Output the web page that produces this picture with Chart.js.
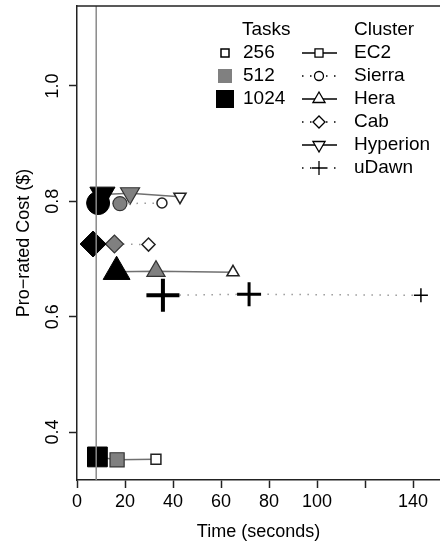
<!DOCTYPE html>
<html>
<head>
<meta charset="utf-8">
<script src="https://cdn.jsdelivr.net/npm/chart.js@4/dist/chart.umd.min.js"></script>
<style>
  html, body { margin: 0; padding: 0; background: #fff; }
</style>
</head>
<body>
<canvas id="chart" width="440" height="545"></canvas>
<script>
// task sizes, in the order every series below uses
const tasks = [256, 512, 1024];

// time (seconds) and pro-rated cost ($) per cluster, for 256 / 512 / 1024 tasks
const ec2Time = [32.9, 16.7, 8.5];
const ec2Cost = [0.353, 0.352, 0.357];
const sierraTime = [35.4, 17.9, 8.8];
const sierraCost = [0.797, 0.796, 0.797];
const heraTime = [65.0, 32.9, 16.5];
const heraCost = [0.677, 0.679, 0.678];
const cabTime = [29.8, 15.6, 6.7];
const cabCost = [0.725, 0.726, 0.726];
const hyperionTime = [42.9, 22.1, 10.6];
const hyperionCost = [0.808, 0.814, 0.812];
const udawnTime = [143.3, 71.7, 35.8];
const udawnCost = [0.637, 0.639, 0.637];

const xTicks = [0, 20, 40, 60, 80, 100, 120, 140];
const xTickLabels = ['0', '20', '40', '60', '80', '100', '', '140'];
const yTicks = [0.4, 0.6, 0.8, 1.0];
const yTickLabels = ['0.4', '0.6', '0.8', '1.0'];
const baselineTime = 8;

const FONT = '"Liberation Sans", Arial, Helvetica, sans-serif';

// look of the three task sizes (open, grey, black)
const taskFill = ['#ffffff', '#808080', '#000000'];
const taskStroke = ['#222222', '#333333', '#000000'];
const taskBorder = [1.5, 1.2, 1];

// one entry per cluster
const clusters = [
  { name: 'EC2', time: ec2Time, cost: ec2Cost, style: 'rect', rot: 0, dotted: false, r: [7, 10, 14] },
  { name: 'Sierra', time: sierraTime, cost: sierraCost, style: 'circle', rot: 0, dotted: true, r: [5, 7, 11.5] },
  { name: 'Hera', time: heraTime, cost: heraCost, style: 'triangle', rot: 0, dotted: false, r: [7, 10.5, 15.5] },
  { name: 'Cab', time: cabTime, cost: cabCost, style: 'rectRot', rot: 0, dotted: true, r: [6.5, 9, 13] },
  { name: 'Hyperion', time: hyperionTime, cost: hyperionCost, style: 'triangle', rot: 180, dotted: false, r: [7, 11, 14.5] },
  { name: 'uDawn', time: udawnTime, cost: udawnCost, style: 'cross', rot: 0, dotted: true, r: [7, 12, 16.5] }
];

const datasets = clusters.map(c => {
  const isCross = c.style === 'cross';
  return {
    label: c.name,
    data: c.time.map((t, i) => ({ x: t, y: c.cost[i] })),
    showLine: true,
    borderColor: c.dotted ? '#999999' : '#707070',
    borderWidth: 1.5,
    borderDash: c.dotted ? [1.5, 6.5] : [],
    pointStyle: c.style,
    pointRotation: c.rot,
    pointRadius: c.r,
    pointHoverRadius: c.r,
    pointBackgroundColor: isCross ? '#000' : taskFill,
    pointBorderColor: isCross ? '#000' : taskStroke,
    pointBorderWidth: isCross ? [1.5, 3, 4] : taskBorder
  };
});

// grey reference line at the baseline time, drawn over the marks
datasets.push({
  label: 'baseline',
  data: [{ x: baselineTime, y: 0.2 }, { x: baselineTime, y: 1.3 }],
  showLine: true,
  borderColor: '#8a8a8a',
  borderWidth: 1.5,
  pointRadius: 0,
  order: -1
});

function drawMark(ctx, style, rot, r, fill, stroke, lw, x, y) {
  ctx.save();
  ctx.fillStyle = fill;
  ctx.strokeStyle = stroke;
  ctx.lineWidth = lw;
  Chart.helpers.drawPoint(ctx, { pointStyle: style, rotation: rot, radius: r, borderWidth: lw }, x, y);
  ctx.restore();
}

// keep the plot box exactly where the reference has it
function noPad(s) {
  s.paddingLeft = 0;
  s.paddingRight = 0;
  s.paddingTop = 0;
  s.paddingBottom = 0;
}

const extras = {
  id: 'extras',
  afterDraw(chart) {
    const { ctx, chartArea: a, scales: { y } } = chart;
    ctx.save();

    // top frame line
    ctx.strokeStyle = '#222';
    ctx.lineWidth = 1.5;
    ctx.beginPath();
    ctx.moveTo(a.left, a.top);
    ctx.lineTo(a.right, a.top);
    ctx.stroke();

    // y tick labels, turned like R does
    ctx.fillStyle = '#000';
    ctx.font = '18px ' + FONT;
    ctx.textAlign = 'center';
    ctx.textBaseline = 'middle';
    yTicks.forEach((v, i) => {
      ctx.save();
      ctx.translate(53, y.getPixelForValue(v));
      ctx.rotate(-Math.PI / 2);
      ctx.fillText(yTickLabels[i], 0, 0);
      ctx.restore();
    });

    // legend: tasks
    ctx.font = '19px ' + FONT;
    ctx.textAlign = 'left';
    ctx.fillText('Tasks', 242, 30);
    const sq = [8, 14, 18];
    tasks.forEach((t, i) => {
      const ry = 53 + i * 23;
      ctx.fillStyle = taskFill[i];
      ctx.fillRect(225 - sq[i] / 2, ry - sq[i] / 2, sq[i], sq[i]);
      if (i === 0) {
        ctx.strokeStyle = '#000';
        ctx.lineWidth = 1.5;
        ctx.strokeRect(225 - sq[i] / 2, ry - sq[i] / 2, sq[i], sq[i]);
      }
      ctx.fillStyle = '#000';
      ctx.fillText(String(t), 243, ry);
    });

    // legend: clusters
    ctx.fillText('Cluster', 354, 30);
    const legR = { rect: 5.7, circle: 4.5, triangle: 7, rectRot: 6, cross: 7 };
    clusters.forEach((c, i) => {
      const ry = 53 + i * 23;
      ctx.save();
      ctx.strokeStyle = '#000';
      ctx.lineWidth = 1.3;
      ctx.setLineDash(c.dotted ? [1.5, 6.5] : []);
      ctx.beginPath();
      ctx.moveTo(302, ry);
      ctx.lineTo(337, ry);
      ctx.stroke();
      ctx.restore();
      drawMark(ctx, c.style, c.rot, legR[c.style], '#fff', '#000', 1.3, 319, ry);
      ctx.fillStyle = '#000';
      ctx.font = '19px ' + FONT;
      ctx.textAlign = 'left';
      ctx.textBaseline = 'middle';
      ctx.fillText(c.name, 354, ry);
    });

    ctx.restore();
  }
};

new Chart(document.getElementById('chart').getContext('2d'), {
  type: 'scatter',
  data: { datasets },
  options: {
    responsive: false,
    animation: false,
    devicePixelRatio: 1,
    layout: { autoPadding: false, padding: { top: 6, left: 0, right: 0, bottom: 0 } },
    plugins: {
      legend: { display: false },
      tooltip: { enabled: false }
    },
    scales: {
      x: {
        type: 'linear',
        min: 0,
        max: 151.25,
        afterBuildTicks: (s) => { s.ticks = xTicks.map(v => ({ value: v })); },
        afterFit: (s) => { s.height = 65; noPad(s); },
        border: { display: true, color: '#222', width: 1.5 },
        grid: { drawOnChartArea: false, drawTicks: true, tickLength: 8, tickColor: '#222', tickWidth: 1.5 },
        ticks: {
          autoSkip: false,
          maxRotation: 0,
          padding: 3,
          color: '#000',
          font: { family: FONT, size: 18 },
          callback: (v) => xTickLabels[xTicks.indexOf(v)]
        },
        title: {
          display: true,
          text: 'Time (seconds)',
          color: '#000',
          font: { family: FONT, size: 18 },
          padding: { top: 0, bottom: 2 }
        }
      },
      y: {
        type: 'linear',
        min: 0.317,
        max: 1.1385,
        afterBuildTicks: (s) => { s.ticks = yTicks.map(v => ({ value: v })); },
        afterFit: (s) => { s.width = 77; noPad(s); },
        border: { display: true, color: '#222', width: 1.5 },
        grid: { drawOnChartArea: false, drawTicks: true, tickLength: 8, tickColor: '#222', tickWidth: 1.5 },
        ticks: { display: false },
        title: {
          display: true,
          text: 'Pro\u2212rated Cost ($)',
          color: '#000',
          font: { family: FONT, size: 18 },
          padding: { top: 13, bottom: 0 }
        }
      }
    }
  },
  plugins: [extras]
});
</script>
</body>
</html>
